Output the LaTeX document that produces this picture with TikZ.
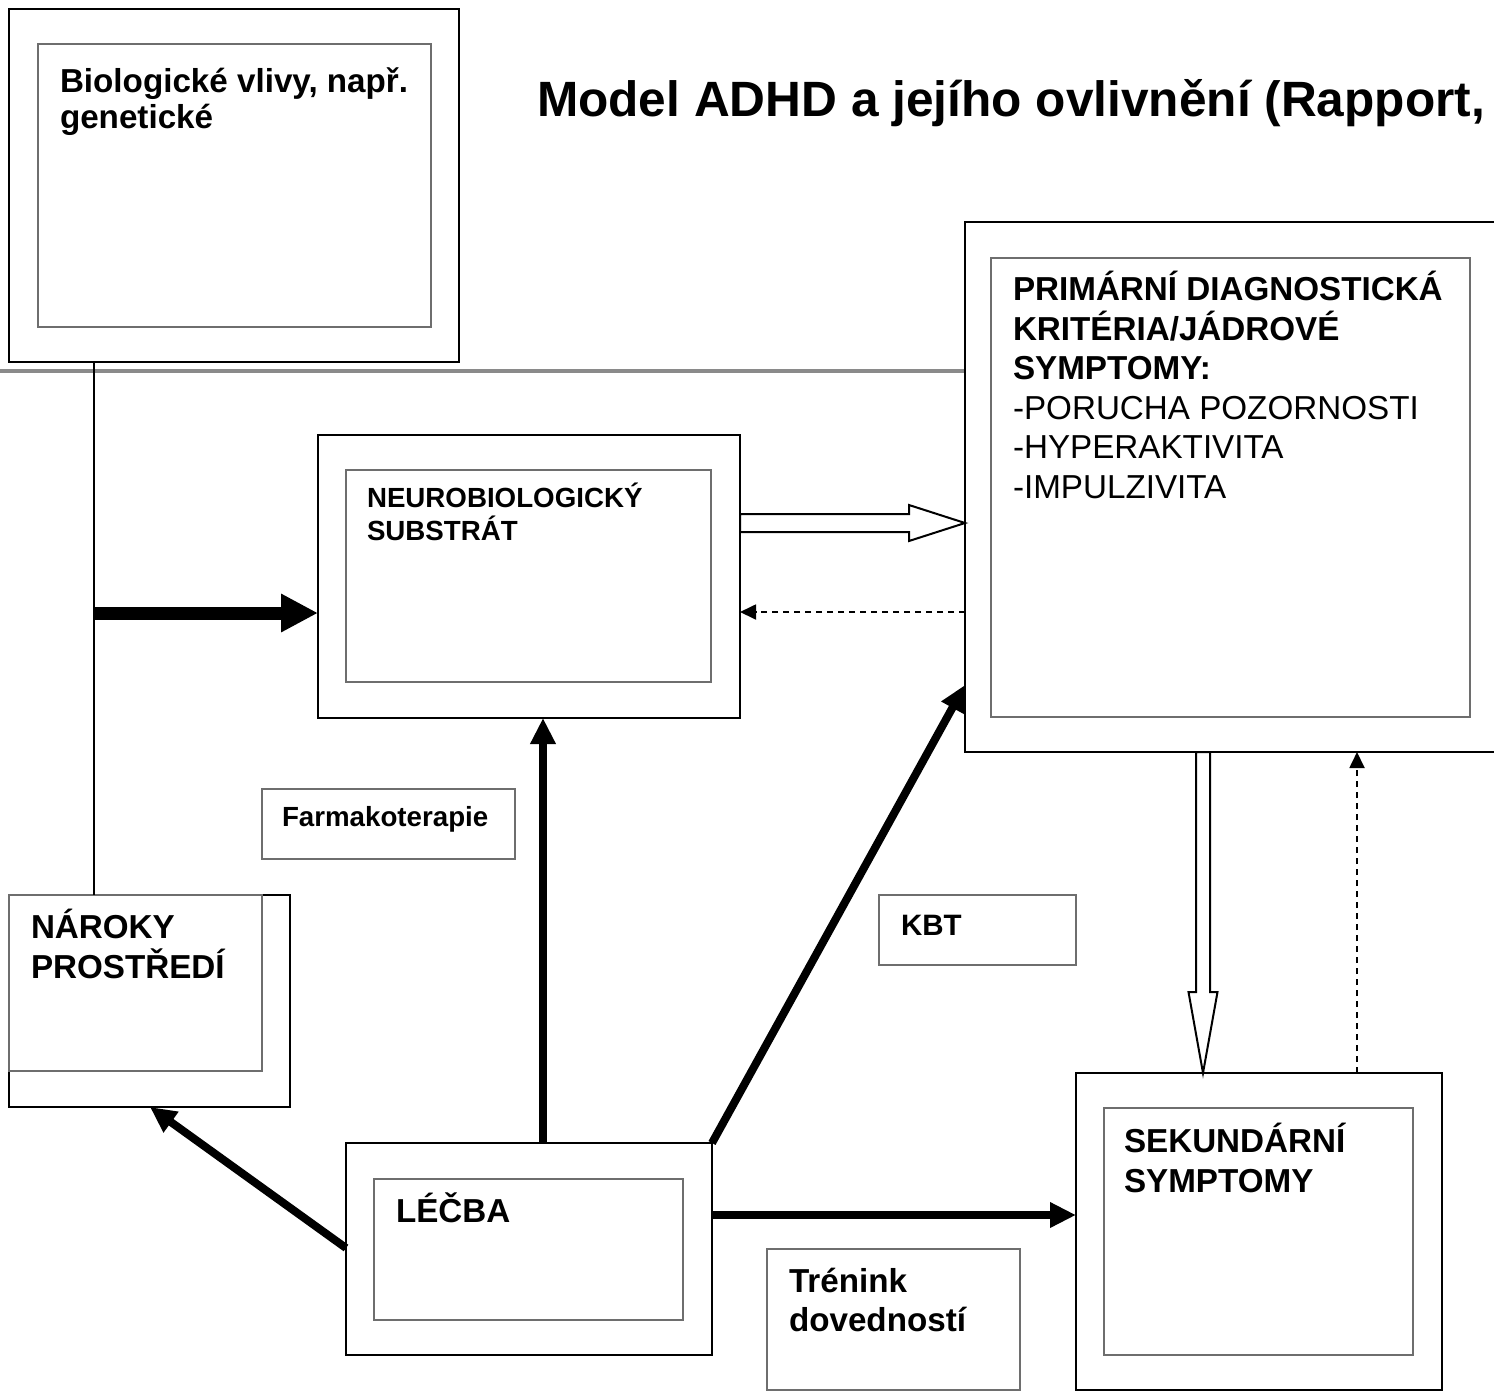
\documentclass[tikz,border=0pt]{standalone}
\usepackage{fontspec}
\setmainfont{Liberation Sans}
\usetikzlibrary{arrows.meta,calc}
\definecolor{innergray}{RGB}{110,110,110}
\definecolor{rulegray}{RGB}{138,138,138}
\tikzset{
  outerbox/.style={draw=black, line width=2.2pt, fill=white, anchor=north west, inner sep=0pt, outer sep=0pt},
  innerbox/.style={draw=innergray, line width=1.4pt, anchor=north west, inner sep=0pt, outer sep=0pt},
  thinbox/.style={draw=innergray, line width=1.3pt, fill=white, anchor=north west, inner sep=0pt, outer sep=0pt},
  lbl/.style={anchor=base west, inner sep=0pt, outer sep=0pt},
  fbig/.style={font=\fontsize{33.2pt}{39pt}\selectfont\bfseries},
  freg/.style={font=\fontsize{33.2pt}{39pt}\selectfont},
  fsmall/.style={font=\fontsize{27.7pt}{33pt}\selectfont\bfseries},
  fkbt/.style={font=\fontsize{29.5pt}{33pt}\selectfont\bfseries},
  ftitle/.style={font=\fontsize{49.6pt}{56pt}\selectfont\bfseries},
  heavyarrow/.style={line width=13pt, -{Triangle[length=37pt,width=36pt]}},
  boldarrow/.style={line width=8pt, -{Triangle[length=26pt,width=24pt]}},
  dasharrow/.style={line width=1.8pt, dash pattern=on 6pt off 5pt, -{Triangle[length=16pt,width=15pt]}},
  hollowarrow/.style={draw=black, line width=2pt, fill=white, line join=miter},
  plainline/.style={draw=black, line width=1.8pt},
}
\begin{document}
\begin{tikzpicture}[x=1pt,y=-1pt]
\useasboundingbox (0,0) rectangle (1494,1398);
% gray rule
\coordinate (ruleL) at (0,370.5);
\coordinate (ruleR) at (1494,370.5);
\draw[rulegray, line width=4pt] (ruleL) -- (ruleR);

% title
\node[lbl, ftitle] (title) at (537,116) {Model ADHD a jejího ovlivnění (Rapport,};

% boxes
\node[outerbox, minimum width=450pt, minimum height=353pt] (bio) at (9,9) {};
\node[innerbox, minimum width=393pt, minimum height=283pt] (bioIn) at (38,44) {};

\node[outerbox, minimum width=422pt, minimum height=283pt] (neuro) at (318,435) {};
\node[innerbox, minimum width=365pt, minimum height=212pt] (neuroIn) at (346,470) {};

\node[outerbox, minimum width=555pt, minimum height=530pt] (prim) at (965,222) {};
\node[innerbox, minimum width=479pt, minimum height=459pt] (primIn) at (991,258) {};

\node[thinbox, minimum width=253pt, minimum height=70pt] (farm) at (262,789) {};

\node[outerbox, minimum width=281pt, minimum height=212pt] (naroky) at (9,895) {};
\node[innerbox, minimum width=253pt, minimum height=176pt] (narokyIn) at (9,895) {};

\node[thinbox, minimum width=197pt, minimum height=70pt] (kbt) at (879,895) {};

\node[outerbox, minimum width=366pt, minimum height=212pt] (lecba) at (346,1143) {};
\node[innerbox, minimum width=309pt, minimum height=141pt] (lecbaIn) at (374,1179) {};

\node[thinbox, minimum width=253pt, minimum height=141pt] (tren) at (767,1249) {};

\node[outerbox, minimum width=366pt, minimum height=317pt] (sek) at (1076,1073) {};
\node[innerbox, minimum width=309pt, minimum height=247pt] (sekIn) at (1104,1108) {};

% texts
\node[lbl, fbig] (bioT1) at (60,92) {Biologické vlivy, např.};
\node[lbl, fbig] (bioT2) at (60,128) {genetické};

\node[lbl, fsmall] (neuroT1) at (367,507) {NEUROBIOLOGICKÝ};
\node[lbl, fsmall] (neuroT2) at (367,540) {SUBSTRÁT};

\node[lbl, fbig] (primT1) at (1013,300) {PRIMÁRNÍ DIAGNOSTICKÁ};
\node[lbl, fbig] (primT2) at (1013,340) {KRITÉRIA/JÁDROVÉ};
\node[lbl, fbig] (primT3) at (1013,379) {SYMPTOMY:};
\node[lbl, freg] (primT4) at (1013,419) {-PORUCHA POZORNOSTI};
\node[lbl, freg] (primT5) at (1013,458) {-HYPERAKTIVITA};
\node[lbl, freg] (primT6) at (1013,498) {-IMPULZIVITA};

\node[lbl, fsmall] (farmT) at (282,826) {Farmakoterapie};

\node[lbl, fbig] (narT1) at (31,938) {NÁROKY};
\node[lbl, fbig] (narT2) at (31,978) {PROSTŘEDÍ};

\node[lbl, fkbt] (kbtT) at (901,935) {KBT};

\node[lbl, fbig] (lecbaT) at (396,1222) {LÉČBA};

\node[lbl, fbig] (trenT1) at (789,1292) {Trénink};
\node[lbl, fbig] (trenT2) at (789,1331) {dovedností};

\node[lbl, fbig] (sekT1) at (1124,1152) {SEKUNDÁRNÍ};
\node[lbl, fbig] (sekT2) at (1124,1192) {SYMPTOMY};

% helper coordinates
\coordinate (vTop) at ([xshift=85pt]bio.south west);
\coordinate (vBot) at ([xshift=85pt]naroky.north west);
\coordinate (jn) at ($(vTop)+(0,251)$);
\coordinate (ha1) at ($(neuro.east)+(0,-53.5)$);
\coordinate (ha2) at (prim.west |- ha1);
\coordinate (dP) at ($(prim.west)+(0,125)$);
\coordinate (upS) at ([xshift=14pt]lecba.north);
\coordinate (diagT) at ($(prim.west)+(0,198)$);
\coordinate (narS) at ($(lecba.west)+(0,-1)$);
\coordinate (narT) at ([xshift=141pt]naroky.south west);
\coordinate (sekS) at ($(lecba.east)+(0,-34)$);
\coordinate (va1) at ([xshift=238pt]prim.south west);
\coordinate (va2) at (va1 |- sek.north);
\coordinate (vd1) at ([xshift=281pt]sek.north west);

% connectors
\draw[plainline] (vTop) -- (vBot);
\draw[heavyarrow] (jn) -- (neuro.west |- jn);

\draw[hollowarrow] ($(ha1)+(0,-9)$) -- ($(ha2)+(-56,-9)$) -- ($(ha2)+(-56,-18)$) -- (ha2)
  -- ($(ha2)+(-56,18)$) -- ($(ha2)+(-56,9)$) -- ($(ha1)+(0,9)$) -- cycle;

\draw[dasharrow] (dP) -- (neuro.east |- dP);

\draw[boldarrow] (upS) -- (upS |- neuro.south);
\draw[boldarrow] (lecba.north east) -- (diagT);
\draw[boldarrow] (narS) -- (narT);
\draw[boldarrow] (sekS) -- (sek.west |- sekS);

\draw[hollowarrow] ($(va1)+(-7,0)$) -- ($(va1)+(-7,240)$) -- ($(va1)+(-14.5,240)$) -- (va2)
  -- ($(va1)+(14.5,240)$) -- ($(va1)+(7,240)$) -- ($(va1)+(7,0)$) -- cycle;

\draw[dasharrow] (vd1) -- (vd1 |- prim.south);
\end{tikzpicture}
\end{document}
